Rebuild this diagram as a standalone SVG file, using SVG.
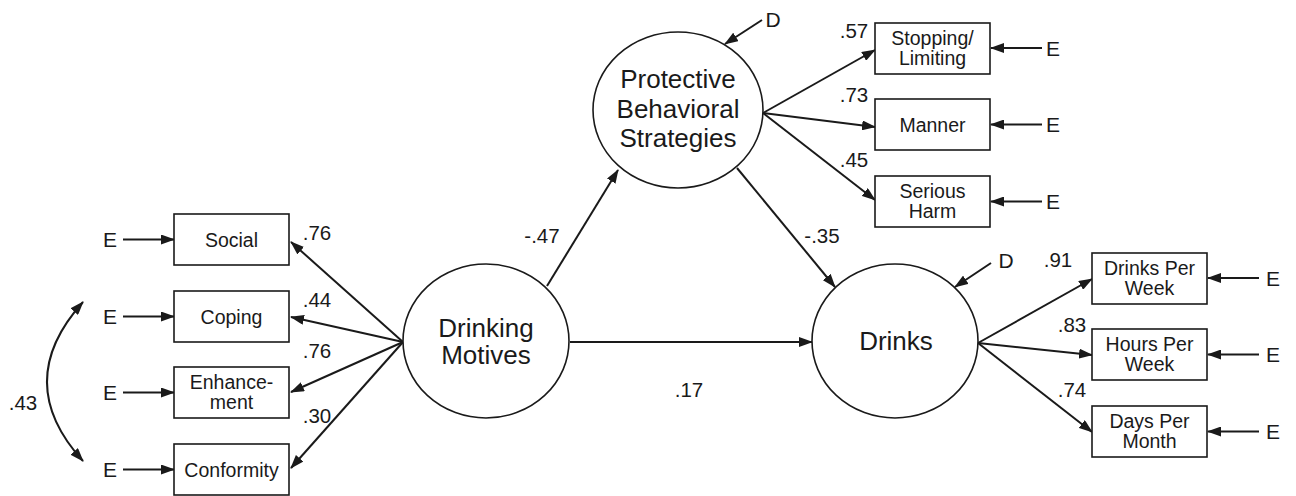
<svg xmlns="http://www.w3.org/2000/svg" width="1296" height="496" viewBox="0 0 1296 496">
<style>
text{font-family:"Liberation Sans",Arial,sans-serif;fill:#1a1a1a;text-anchor:middle}
.box{fill:#fff;stroke:#1a1a1a;stroke-width:1.6}
.lat{fill:#fff;stroke:#1a1a1a;stroke-width:1.6}
.bt{font-size:19.5px}
.lt{font-size:26px}
.lab{font-size:20.5px}
.e{font-size:21px}
.c line,.c path{stroke:#1a1a1a;stroke-width:2;fill:none}
</style>
<defs>
<marker id="ah" viewBox="0 0 14 10" refX="13" refY="5" markerWidth="14" markerHeight="10" markerUnits="userSpaceOnUse" orient="auto-start-reverse">
<path d="M0,0 L14,5 L0,10 z" fill="#1a1a1a"/>
</marker>
</defs>
<rect width="1296" height="496" fill="#fff"/>

<g class="c" id="connectors">
<line x1="403" y1="342" x2="291" y2="242" marker-end="url(#ah)"/>
<line x1="403" y1="342" x2="291" y2="317" marker-end="url(#ah)"/>
<line x1="403" y1="342" x2="291" y2="392" marker-end="url(#ah)"/>
<line x1="403" y1="342" x2="291" y2="468" marker-end="url(#ah)"/>
<line x1="123" y1="239.5" x2="174" y2="239.5" marker-end="url(#ah)"/>
<line x1="123" y1="316.5" x2="174" y2="316.5" marker-end="url(#ah)"/>
<line x1="123" y1="392.5" x2="174" y2="392.5" marker-end="url(#ah)"/>
<line x1="123" y1="469.5" x2="174" y2="469.5" marker-end="url(#ah)"/>
<path d="M83,302 Q11,382 83,461" marker-start="url(#ah)" marker-end="url(#ah)"/>
<line x1="547" y1="286" x2="618" y2="170" marker-end="url(#ah)"/>
<line x1="737" y1="168" x2="835" y2="287" marker-end="url(#ah)"/>
<line x1="570" y1="342" x2="812" y2="342" marker-end="url(#ah)"/>
<line x1="762" y1="20" x2="725" y2="44" marker-end="url(#ah)"/>
<line x1="991" y1="263" x2="955" y2="287" marker-end="url(#ah)"/>
<line x1="763" y1="113" x2="875" y2="50" marker-end="url(#ah)"/>
<line x1="763" y1="113" x2="875" y2="127" marker-end="url(#ah)"/>
<line x1="763" y1="113" x2="875" y2="200" marker-end="url(#ah)"/>
<line x1="1042" y1="48" x2="991" y2="48" marker-end="url(#ah)"/>
<line x1="1042" y1="124.5" x2="991" y2="124.5" marker-end="url(#ah)"/>
<line x1="1042" y1="201.5" x2="991" y2="201.5" marker-end="url(#ah)"/>
<line x1="978" y1="343" x2="1092" y2="279" marker-end="url(#ah)"/>
<line x1="978" y1="343" x2="1092" y2="355" marker-end="url(#ah)"/>
<line x1="978" y1="343" x2="1092" y2="432" marker-end="url(#ah)"/>
<line x1="1259" y1="278" x2="1208" y2="278" marker-end="url(#ah)"/>
<line x1="1259" y1="354.5" x2="1208" y2="354.5" marker-end="url(#ah)"/>
<line x1="1259" y1="431.5" x2="1208" y2="431.5" marker-end="url(#ah)"/>
</g>

<g id="labels" class="lab">
<text x="317" y="240">.76</text>
<text x="317" y="307">.44</text>
<text x="317" y="358">.76</text>
<text x="317" y="423">.30</text>
<text x="23" y="410">.43</text>
<text x="542" y="243">-.47</text>
<text x="822" y="243">-.35</text>
<text x="689" y="397">.17</text>
<text x="854" y="38">.57</text>
<text x="854" y="102">.73</text>
<text x="854" y="167">.45</text>
<text x="1058" y="267">.91</text>
<text x="1072" y="332">.83</text>
<text x="1072" y="397">.74</text>
</g>

<g id="err-labels" class="e">
<text x="110" y="247">E</text>
<text x="110" y="324">E</text>
<text x="110" y="400">E</text>
<text x="110" y="477">E</text>
<text x="1053" y="55.5">E</text>
<text x="1053" y="132">E</text>
<text x="1053" y="209">E</text>
<text x="1273" y="285.5">E</text>
<text x="1273" y="362">E</text>
<text x="1273" y="439">E</text>
<text x="773" y="27">D</text>
<text x="1006" y="268">D</text>
</g>

<g id="social"><rect class="box" x="174" y="214" width="115" height="51"/><text class="bt" x="231.5" y="246.5">Social</text></g>
<g id="coping"><rect class="box" x="174" y="291" width="115" height="51"/><text class="bt" x="231.5" y="323.5">Coping</text></g>
<g id="enhancement"><rect class="box" x="174" y="367" width="115" height="51"/><text class="bt" x="231.5" y="389">Enhance-</text><text class="bt" x="231.5" y="409">ment</text></g>
<g id="conformity"><rect class="box" x="174" y="444" width="115" height="51"/><text class="bt" x="231.5" y="476.5">Conformity</text></g>

<g id="drinking-motives"><ellipse class="lat" cx="486" cy="341" rx="83" ry="77"/><text class="lt" x="486" y="337">Drinking</text><text class="lt" x="486" y="364">Motives</text></g>
<g id="protective"><ellipse class="lat" cx="678" cy="110" rx="85" ry="78"/><text class="lt" x="678" y="88">Protective</text><text class="lt" x="678" y="118">Behavioral</text><text class="lt" x="678" y="147">Strategies</text></g>
<g id="drinks"><ellipse class="lat" cx="895" cy="341" rx="83" ry="77"/><text class="lt" x="896" y="350">Drinks</text></g>

<g id="stopping"><rect class="box" x="875" y="23" width="115" height="51"/><text class="bt" x="932.5" y="45">Stopping/</text><text class="bt" x="932.5" y="65">Limiting</text></g>
<g id="manner"><rect class="box" x="875" y="99" width="115" height="51"/><text class="bt" x="932.5" y="131.5">Manner</text></g>
<g id="serious-harm"><rect class="box" x="875" y="176" width="115" height="51"/><text class="bt" x="932.5" y="198">Serious</text><text class="bt" x="932.5" y="218">Harm</text></g>

<g id="drinks-per-week"><rect class="box" x="1092" y="253" width="115" height="51"/><text class="bt" x="1149.5" y="275">Drinks Per</text><text class="bt" x="1149.5" y="295">Week</text></g>
<g id="hours-per-week"><rect class="box" x="1092" y="329" width="115" height="51"/><text class="bt" x="1149.5" y="351">Hours Per</text><text class="bt" x="1149.5" y="371">Week</text></g>
<g id="days-per-month"><rect class="box" x="1092" y="406" width="115" height="51"/><text class="bt" x="1149.5" y="428">Days Per</text><text class="bt" x="1149.5" y="448">Month</text></g>
</svg>
